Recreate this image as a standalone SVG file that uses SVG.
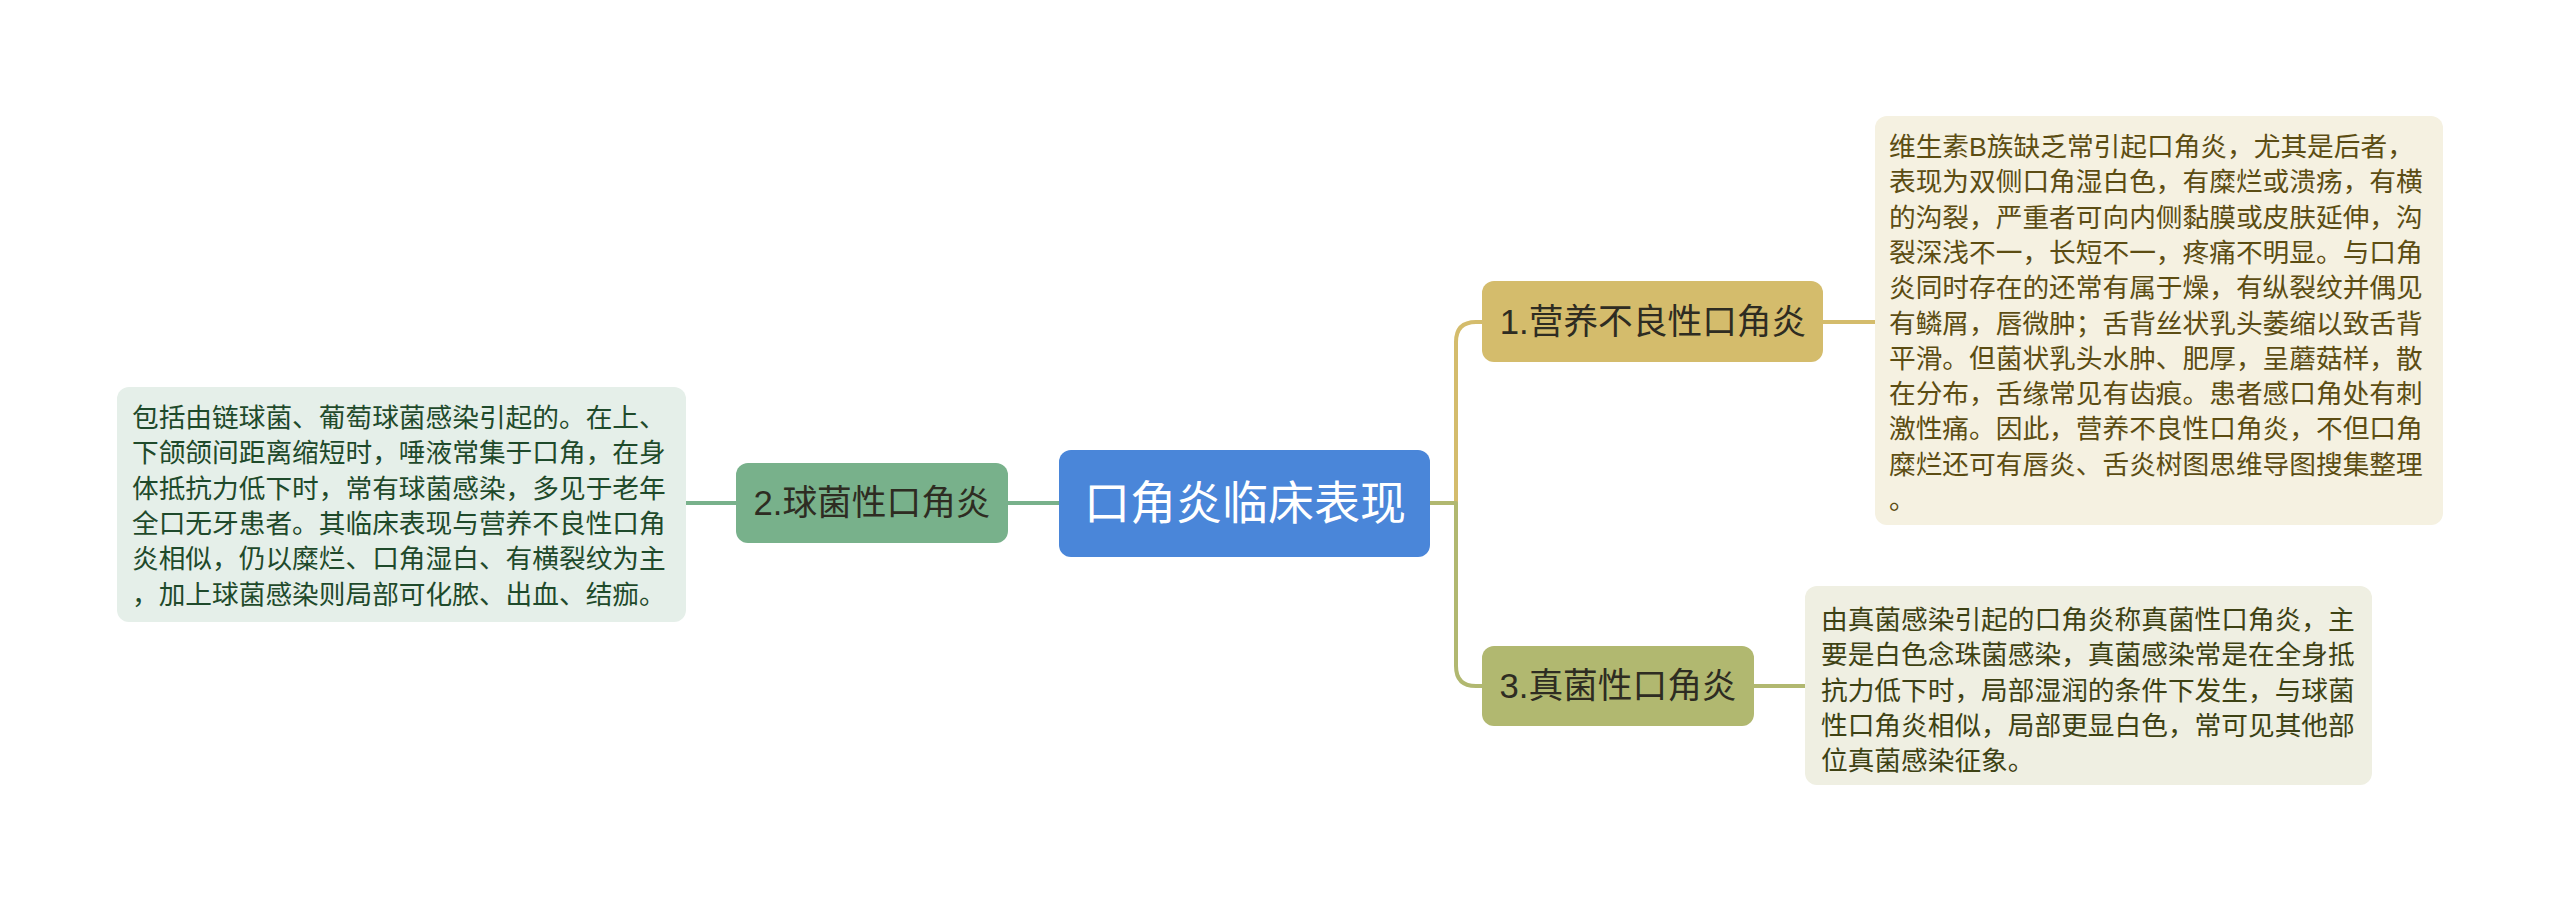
<svg xmlns="http://www.w3.org/2000/svg" width="2560" height="903" viewBox="0 0 2560 903">
<style>
text{font-family:"Liberation Sans","Noto Sans CJK SC",sans-serif;}
.body{font-size:26.7px;}
.topic{font-size:34.7px;fill:#2e2c22;text-anchor:middle;}
.root{font-size:46px;fill:#ffffff;text-anchor:middle;}
.ln{fill:none;stroke-width:4;stroke-linecap:round;stroke-linejoin:round;}
</style>
<rect x="0" y="0" width="2560" height="903" fill="#ffffff"/>
<g id="connectors">
<path class="ln" stroke="#d4bc6c" d="M1430,503 H1456 V342 Q1456,322 1476,322 H1482"/>
<path class="ln" stroke="#b1b870" d="M1430,503 H1456 V666 Q1456,686 1476,686 H1482"/>
<path class="ln" stroke="#78b18b" d="M1059,503 H1008"/>
<path class="ln" stroke="#78b18b" d="M736,503 H686"/>
<path class="ln" stroke="#d4bc6c" d="M1823,322 H1875"/>
<path class="ln" stroke="#b1b870" d="M1754,686 H1805"/>
</g>
<g id="root">
<rect x="1059" y="450" width="371" height="107" rx="12" fill="#4a86d9"/>
<text class="root" x="1245" y="519">口角炎临床表现</text>
</g>
<g id="topic1">
<rect x="1482" y="281" width="341" height="81" rx="12" fill="#d4bc6c"/>
<text class="topic" x="1653" y="334">1.营养不良性口角炎</text>
</g>
<g id="topic2">
<rect x="736" y="463" width="272" height="80" rx="12" fill="#78b18b"/>
<text class="topic" x="872" y="515" fill="#1f2e24">2.球菌性口角炎</text>
</g>
<g id="topic3">
<rect x="1482" y="646" width="272" height="80" rx="12" fill="#b1b870"/>
<text class="topic" x="1618" y="698">3.真菌性口角炎</text>
</g>
<g id="detail1">
<rect x="1875" y="116" width="568" height="409" rx="12" fill="#f5f1e1"/>
<text class="body" fill="#5c4d13">
<tspan x="1889" y="156">维生素B族缺乏常引起口角炎，尤其是后者，</tspan>
<tspan x="1889" y="191.3">表现为双侧口角湿白色，有糜烂或溃疡，有横</tspan>
<tspan x="1889" y="226.6">的沟裂，严重者可向内侧黏膜或皮肤延伸，沟</tspan>
<tspan x="1889" y="261.9">裂深浅不一，长短不一，疼痛不明显。与口角</tspan>
<tspan x="1889" y="297.2">炎同时存在的还常有属于燥，有纵裂纹并偶见</tspan>
<tspan x="1889" y="332.5">有鳞屑，唇微肿；舌背丝状乳头萎缩以致舌背</tspan>
<tspan x="1889" y="367.8">平滑。但菌状乳头水肿、肥厚，呈蘑菇样，散</tspan>
<tspan x="1889" y="403.1">在分布，舌缘常见有齿痕。患者感口角处有刺</tspan>
<tspan x="1889" y="438.4">激性痛。因此，营养不良性口角炎，不但口角</tspan>
<tspan x="1889" y="473.7">糜烂还可有唇炎、舌炎树图思维导图搜集整理</tspan>
<tspan x="1889" y="509">。</tspan>
</text>
</g>
<g id="detail2">
<rect x="117" y="387" width="569" height="235" rx="12" fill="#e5efe9"/>
<text class="body" fill="#1f4a2b">
<tspan x="132" y="427">包括由链球菌、葡萄球菌感染引起的。在上、</tspan>
<tspan x="132" y="462.3">下颌颌间距离缩短时，唾液常集于口角，在身</tspan>
<tspan x="132" y="497.6">体抵抗力低下时，常有球菌感染，多见于老年</tspan>
<tspan x="132" y="532.9">全口无牙患者。其临床表现与营养不良性口角</tspan>
<tspan x="132" y="568.2">炎相似，仍以糜烂、口角湿白、有横裂纹为主</tspan>
<tspan x="132" y="603.5">，加上球菌感染则局部可化脓、出血、结痂。</tspan>
</text>
</g>
<g id="detail3">
<rect x="1805" y="586" width="567" height="199" rx="12" fill="#efefe2"/>
<text class="body" fill="#3e4214">
<tspan x="1821" y="629">由真菌感染引起的口角炎称真菌性口角炎，主</tspan>
<tspan x="1821" y="664.3">要是白色念珠菌感染，真菌感染常是在全身抵</tspan>
<tspan x="1821" y="699.6">抗力低下时，局部湿润的条件下发生，与球菌</tspan>
<tspan x="1821" y="734.9">性口角炎相似，局部更显白色，常可见其他部</tspan>
<tspan x="1821" y="770.2">位真菌感染征象。</tspan>
</text>
</g>
</svg>
